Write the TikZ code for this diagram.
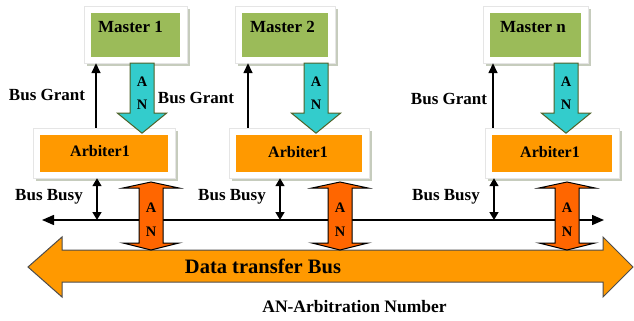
\documentclass[tikz,border=0pt]{standalone}
\usepackage{fontspec}
\setmainfont{Liberation Serif}
\usetikzlibrary{arrows.meta,shadows}
\definecolor{mastergreen}{HTML}{9BBB59}
\definecolor{arbiterorange}{HTML}{FF9900}
\definecolor{anorange}{HTML}{FF6600}
\definecolor{ancyan}{HTML}{33CCCC}
\definecolor{anedge}{HTML}{4F6228}
\definecolor{frameshade}{HTML}{C6CCBD}
\definecolor{busedge}{HTML}{4D4D4D}

\tikzset{
  txt/.style={font=\bfseries\fontsize{#1}{#1}\selectfont, inner sep=0pt},
  framed/.style 2 args={draw=black!10, fill=white, inner sep=0pt,
    minimum width=#1, minimum height=50pt,
    drop shadow={shadow xshift=3pt, shadow yshift=-3pt, fill=frameshade, opacity=1},
    path picture={\fill[#2]
      ([shift={(7,7)}]path picture bounding box.north west) rectangle
      ([shift={(-7,-6)}]path picture bounding box.south east);}},
  masterbox/.style={framed={#1}{mastergreen}, minimum height=57pt},
  arbiterbox/.style={framed={#1}{arbiterorange}},
  link/.style={line width=1.5pt, -{Triangle[width=9pt,length=10pt]}},
  busy/.style={line width=1.5pt, {Triangle[width=9pt,length=8pt]}-{Triangle[width=9pt,length=8pt]}},
  pics/andown/.style={code={
    \draw[fill=ancyan, draw=anedge, line width=1pt]
      (-12,0) -- (12,0) -- (12,50) -- (24.5,50) -- (0,70) -- (-24.5,50) -- (-12,50) -- cycle;
    \node[txt=14.5] at (0,19) {A};
    \node[txt=14.5] at (0,42) {N};}},
  pics/anboth/.style={code={
    \draw[fill=anorange, draw=black, line width=1pt]
      (0,0) -- (28,6) -- (12,6) -- (12,61) -- (28,61) -- (0,68)
      -- (-28,61) -- (-12,61) -- (-12,6) -- (-28,6) -- cycle;
    \node[txt=14.5] at (0,26) {A};
    \node[txt=14.5] at (0,50) {N};}}
}

\begin{document}
\begin{tikzpicture}[x=1pt, y=-1pt]
\useasboundingbox (0,0) rectangle (634,321);

% masters and arbiters
\node[masterbox=103pt] (m1) at (135.5,34.5) {};
\node[masterbox=100pt] (m2) at (285,34.5) {};
\node[masterbox=105pt] (m3) at (535.5,34.5) {};
\node[txt=17] at (130.5,27) {Master 1};
\node[txt=17] at (282.5,27) {Master 2};
\node[txt=17] at (533,27) {Master n};

\node[arbiterbox=142pt] (a1) at (104,153) {};
\node[arbiterbox=140pt] (a2) at (299,153) {};
\node[arbiterbox=134pt] (a3) at (552,153) {};
\node[txt=16] at (100,151) {Arbiter1};
\node[txt=16] at (298,152) {Arbiter1};
\node[txt=16] at (550,152) {Arbiter1};

% x positions of the connectors
\coordinate (g1) at (96,0);   \coordinate (g2) at (248,0);  \coordinate (g3) at (493,0);
\coordinate (c1) at (142,0);  \coordinate (c2) at (316,0);  \coordinate (c3) at (566,0);
\coordinate (b1) at (97,220); \coordinate (b2) at (280,220); \coordinate (b3) at (494,220);
\coordinate (o1) at (151,182); \coordinate (o2) at (340,182); \coordinate (o3) at (567,182);
\coordinate (busl) at (42,220); \coordinate (busr) at (604,220);

% bus grant lines
\draw[link] (a1.north -| g1) -- (m1.south -| g1);
\draw[link] (a2.north -| g2) -- (m2.south -| g2);
\draw[link] (a3.north -| g3) -- (m3.south -| g3);
\node[txt=17] at (47,95) {Bus Grant};
\node[txt=17] at (196,98) {Bus Grant};
\node[txt=17] at (449,99) {Bus Grant};

% arbitration numbers sent down to the arbiters
\pic at (m1.south -| c1) {andown};
\pic at (m2.south -| c2) {andown};
\pic at (m3.south -| c3) {andown};

% bus busy line
\draw[line width=1.5pt, {Triangle[width=10pt,length=12pt]}-{Triangle[width=10pt,length=12pt]}] (busl) -- (busr);
\draw[busy] (a1.south -| b1) -- (b1);
\draw[busy] (a2.south -| b2) -- (b2);
\draw[busy] (a3.south -| b3) -- (b3);
\node[txt=17] at (49,197) {Bus Busy};
\node[txt=17] at (232,197) {Bus Busy};
\node[txt=17] at (446,197) {Bus Busy};

% data transfer bus
\draw[fill=arbiterorange, draw=busedge, line width=1pt]
  (28,267) -- (62,237) -- (62,250) -- (603,250) -- (603,237) -- (633,267)
  -- (603,297) -- (603,282) -- (62,282) -- (62,297) -- cycle;
\node[txt=20.5] (bus) at (263,266) {Data transfer Bus};

% arbitration numbers on the bus
\pic at (o1) {anboth};
\pic at (o2) {anboth};
\pic at (o3) {anboth};

\node[txt=17.5] (note) at (354.5,307) {AN-Arbitration Number};
\end{tikzpicture}
\end{document}
